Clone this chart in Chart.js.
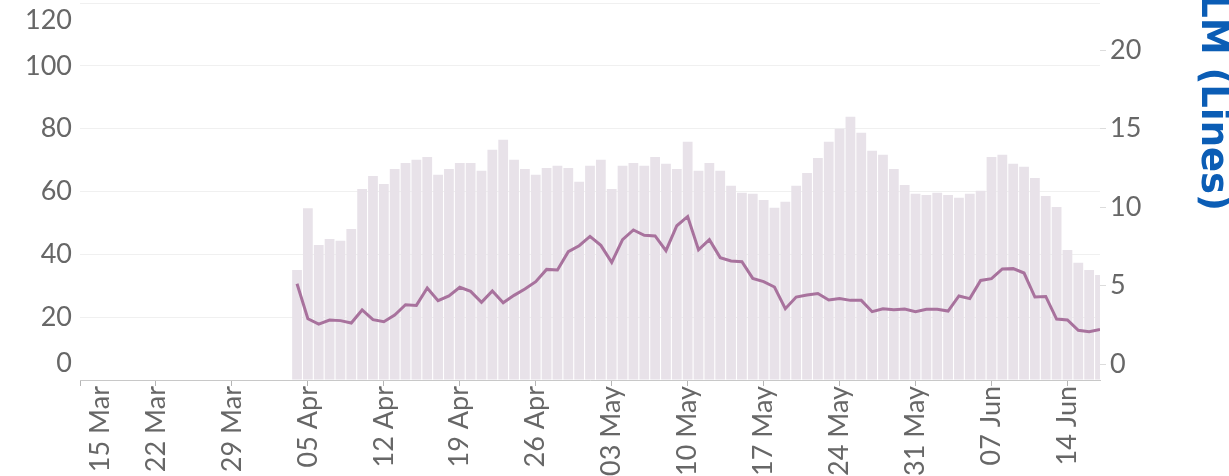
<!DOCTYPE html>
<html>
<head>
<meta charset="utf-8">
<script src="https://cdn.jsdelivr.net/npm/chart.js@4.4.1/dist/chart.umd.min.js"></script>
<style>
  html, body { margin: 0; padding: 0; background: #fff; }
  #wrap { width: 1229px; height: 476px; position: relative; }
</style>
</head>
<body>
<div id="wrap"><canvas id="chart"></canvas></div>
<script>
// day 0 = 15 Mar, first value is 04 Apr (day 20)
const first_day = 20
const tick_days = [0, 7, 14, 21, 28, 35, 42, 49, 56, 63, 70, 77, 84, 91]
const tick_labels = ['15 Mar', '22 Mar', '29 Mar', '05 Apr', '12 Apr', '19 Apr', '26 Apr',
  '03 May', '10 May', '17 May', '24 May', '31 May', '07 Jun', '14 Jun']
const right_ticks = [0, 5, 10, 15, 20]

// bars (left axis)
const bar_values = [
  35.0, 54.7, 43.0, 44.9, 44.3, 48.1, 60.8, 64.9, 62.4, 67.2,
  69.1, 70.1, 71.0, 65.3, 67.2, 69.1, 69.1, 66.6, 73.3, 76.5,
  70.1, 67.2, 65.3, 67.5, 68.2, 67.5, 63.1, 68.2, 70.1, 60.8,
  68.2, 69.1, 68.2, 71.0, 68.8, 67.2, 75.8, 66.6, 69.1, 66.6,
  61.8, 59.6, 59.3, 57.3, 54.8, 56.7, 61.8, 65.9, 70.7, 75.8,
  80.0, 83.8, 78.7, 73.0, 71.7, 67.2, 62.1, 59.3, 58.9, 59.6,
  58.9, 58.0, 59.3, 60.2, 71.0, 71.7, 68.8, 67.9, 64.3, 58.6,
  55.1, 41.4, 37.3, 35.0, 33.4
]

// line (right axis)
const line_values = [
  5.13, 2.90, 2.56, 2.82, 2.78, 2.63, 3.46, 2.84, 2.71, 3.14,
  3.79, 3.75, 4.86, 4.05, 4.35, 4.90, 4.64, 3.94, 4.67, 3.92,
  4.39, 4.79, 5.26, 6.04, 6.00, 7.17, 7.55, 8.14, 7.57, 6.49,
  7.93, 8.55, 8.21, 8.17, 7.23, 8.82, 9.41, 7.29, 7.93, 6.79,
  6.58, 6.53, 5.47, 5.26, 4.92, 3.54, 4.28, 4.41, 4.51, 4.09,
  4.18, 4.07, 4.07, 3.35, 3.54, 3.48, 3.52, 3.35, 3.50, 3.50,
  3.39, 4.35, 4.18, 5.34, 5.45, 6.07, 6.09, 5.81, 4.28, 4.32,
  2.88, 2.82, 2.16, 2.08, 2.22
]

const right_title = 'LM (Lines)'

const text_color = '#676767'
const tick_font = { family: 'Lato', size: 27 }

const bar_points = bar_values.map((v, i) => ({ x: first_day + i, y: v }))
const line_points = line_values.map((v, i) => ({ x: first_day + i, y: v }))

function no_padding(scale) {
  scale.paddingTop = 0
  scale.paddingBottom = 0
  scale.paddingLeft = 0
  scale.paddingRight = 0
}

// labels at the ends of the axes sit inside, like the original
const edgeLabels = {
  id: 'edgeLabels',
  afterDraw(chart) {
    const ctx = chart.ctx
    const y = chart.scales.y
    const x = chart.scales.x
    ctx.save()
    ctx.fillStyle = text_color
    ctx.font = `${tick_font.size}px ${tick_font.family}`
    ctx.textAlign = 'right'
    ctx.textBaseline = 'middle'
    ctx.fillText('120', y.right - 8, y.getPixelForValue(120) + 17)
    ctx.fillText('0', y.right - 8, y.getPixelForValue(0) - 17)
    ctx.translate(x.getPixelForValue(tick_days[0]) + 20, x.top + 6)
    ctx.rotate(-Math.PI / 2)
    ctx.fillText(tick_labels[0], 0, 0)
    ctx.restore()

    // right axis title, runs off the top of the canvas
    ctx.save()
    ctx.fillStyle = '#0b5db5'
    ctx.font = 'bold 37px "DejaVu Sans"'
    ctx.textAlign = 'right'
    ctx.textBaseline = 'alphabetic'
    ctx.translate(1202, 211)
    ctx.rotate(Math.PI / 2)
    ctx.fillText(right_title, 0, 0)
    ctx.restore()
  }
}

const canvas = document.getElementById('chart')

let chart = new Chart(canvas, {
  type: 'bar',
  data: {
    datasets: [
      {
        type: 'line',
        data: line_points,
        yAxisID: 'y1',
        borderColor: '#a8729d',
        borderWidth: 3,
        pointRadius: 0,
        tension: 0,
      },
      {
        type: 'bar',
        data: bar_points,
        yAxisID: 'y',
        backgroundColor: '#e8e2e9',
        categoryPercentage: 1,
        barPercentage: 0.9,
        clip: 0,
      },
    ]
  },
  options: {
    animation: false,
    responsive: true,
    maintainAspectRatio: false,
    layout: { padding: { top: 3, left: 0, right: 0, bottom: 0 } },
    plugins: {
      legend: { display: false },
      tooltip: { enabled: false },
    },
    scales: {
      x: {
        type: 'linear',
        min: 0,
        max: 94,
        offset: false,
        afterBuildTicks: (scale) => { scale.ticks = tick_days.map(v => ({ value: v })) },
        afterFit: (scale) => { scale.height = 96; no_padding(scale) },
        ticks: {
          autoSkip: false,
          maxRotation: 90,
          minRotation: 90,
          padding: 0,
          color: text_color,
          font: tick_font,
          callback: (v) => v === tick_days[0] ? '' : tick_labels[tick_days.indexOf(v)],
        },
        grid: {
          offset: false,
          drawOnChartArea: false,
          tickLength: 6,
          tickColor: '#b5b5b5',
        },
        border: { color: '#c8c8c8', dash: [1, 2] },
      },
      y: {
        position: 'left',
        min: 0,
        max: 120,
        afterFit: (scale) => { scale.width = 80; no_padding(scale) },
        ticks: {
          stepSize: 20,
          padding: 8,
          color: text_color,
          font: tick_font,
          callback: (v) => (v === 0 || v === 120) ? '' : v,
        },
        grid: { color: '#f0f0f0', drawTicks: false },
        border: { display: false },
      },
      y1: {
        position: 'right',
        min: -1,
        max: 23,
        afterBuildTicks: (scale) => { scale.ticks = right_ticks.map(v => ({ value: v })) },
        afterFit: (scale) => { scale.width = 129; no_padding(scale) },
        ticks: {
          padding: 4,
          color: text_color,
          font: tick_font,
        },
        grid: {
          drawOnChartArea: false,
          tickLength: 6,
          tickColor: '#dcdcdc',
        },
        border: { display: false },
      },
    },
  },
  plugins: [edgeLabels],
})
</script>
</body>
</html>
